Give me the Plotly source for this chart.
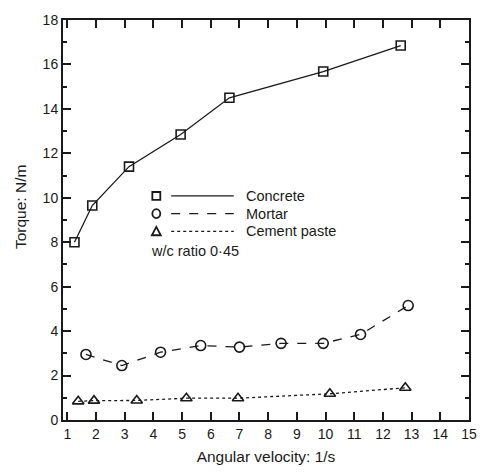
import plotly.graph_objects as go

concrete_x = [1.25, 1.87, 3.15, 4.95, 6.65, 9.92, 12.62]
concrete_y = [8.0, 9.65, 11.4, 12.85, 14.5, 15.68, 16.85]

mortar_x = [1.65, 2.9, 4.25, 5.65, 7.0, 8.45, 9.92, 11.22, 12.88]
mortar_y = [2.95, 2.45, 3.05, 3.35, 3.28, 3.45, 3.45, 3.85, 5.15]

paste_x = [1.38, 1.93, 3.42, 5.15, 6.95, 10.15, 12.78]
paste_y = [0.84, 0.87, 0.88, 0.98, 0.98, 1.18, 1.45]

x_ticks = list(range(1, 16))
y_ticks = list(range(0, 19, 2))

series_names = ["Concrete", "Mortar", "Cement paste"]
series_dash = ["solid", "dash", "dot"]
series_symbol = ["square-open", "circle-open", "triangle-up-open"]

font = "Liberation Sans, Arial, sans-serif"
ink = "#1a1a1a"

W, H = 489, 475
ML, MR, MT, MB = 63, 17, 15, 53
PW, PH = W - ML - MR, H - MT - MB


def px_x(p):
    return (p - ML) / PW


def px_y(p):
    return (H - MB - p) / PH


fig = go.Figure()
for xs, ys, name, dash, sym in zip([concrete_x, mortar_x, paste_x],
                                   [concrete_y, mortar_y, paste_y],
                                   series_names, series_dash, series_symbol):
    fig.add_trace(go.Scatter(x=xs, y=ys, name=name, mode="lines+markers", showlegend=False,
                             line=dict(color=ink, width=1.3, dash=dash),
                             marker=dict(symbol=sym, size=10 if sym != "square-open" else 9,
                                         color=ink, line=dict(width=1.6))))

# hand-made legend (symbol, line sample, label) like the original figure
row_px = [194, 212, 230]
sym_px, line0_px, line1_px, text_px = 157, 172, 235, 245
for i, (name, dash) in enumerate(zip(series_names, series_dash)):
    yy = row_px[i]
    fig.add_shape(type="line", xref="paper", yref="paper",
                  x0=px_x(line0_px), x1=px_x(line1_px), y0=px_y(yy), y1=px_y(yy),
                  line=dict(color=ink, width=1.3, dash=dash))
    fig.add_annotation(x=px_x(text_px), y=px_y(yy), xref="paper", yref="paper", text=name,
                       showarrow=False, xanchor="left", yanchor="middle",
                       font=dict(family=font, size=14.5, color=ink))
    r = 4
    if i == 0:
        fig.add_shape(type="rect", xref="paper", yref="paper",
                      x0=px_x(sym_px - r), x1=px_x(sym_px + r),
                      y0=px_y(yy + r), y1=px_y(yy - r), line=dict(color=ink, width=1.8))
    elif i == 1:
        fig.add_shape(type="circle", xref="paper", yref="paper",
                      x0=px_x(sym_px - r), x1=px_x(sym_px + r),
                      y0=px_y(yy + r + 0.5), y1=px_y(yy - r - 0.5), line=dict(color=ink, width=1.8))
    else:
        path = "M {} {} L {} {} L {} {} Z".format(px_x(sym_px - r - 0.5), px_y(yy + r),
                                                  px_x(sym_px + r + 0.5), px_y(yy + r),
                                                  px_x(sym_px), px_y(yy - r - 0.5))
        fig.add_shape(type="path", xref="paper", yref="paper", path=path,
                      line=dict(color=ink, width=1.8))

fig.add_annotation(x=px_x(150), y=px_y(250), xref="paper", yref="paper", text="w/c ratio 0·45",
                   showarrow=False, xanchor="left", yanchor="middle",
                   font=dict(family=font, size=14.5, color=ink))

fig.add_annotation(x=px_x(20), y=px_y(205), xref="paper", yref="paper", text="Torque: N/m",
                   showarrow=False, textangle=-90, xanchor="center", yanchor="middle",
                   font=dict(family=font, size=15.5, color=ink))

fig.update_layout(
    width=W, height=H,
    margin=dict(l=ML, r=MR, t=MT, b=MB),
    paper_bgcolor="white", plot_bgcolor="white",
    font=dict(family=font, size=14, color=ink),
    showlegend=False,
    xaxis=dict(range=[0.85, 15], tickvals=x_ticks, showgrid=False, zeroline=False,
               showline=True, linecolor=ink, linewidth=2, mirror="ticks",
               ticks="inside", ticklen=8, tickwidth=2, tickcolor=ink,
               tickfont=dict(size=14),
               title=dict(text="Angular velocity: 1/s", font=dict(size=15.5), standoff=10)),
    yaxis=dict(range=[0, 18], tickvals=y_ticks, showgrid=False, zeroline=False,
               showline=True, linecolor=ink, linewidth=2, mirror="ticks",
               ticks="inside", ticklen=8, tickwidth=2, tickcolor=ink,
               tickfont=dict(size=14),
               minor=dict(dtick=1, ticks="inside", ticklen=4, tickwidth=2, tickcolor=ink)),
)

fig.write_html("out.html")
